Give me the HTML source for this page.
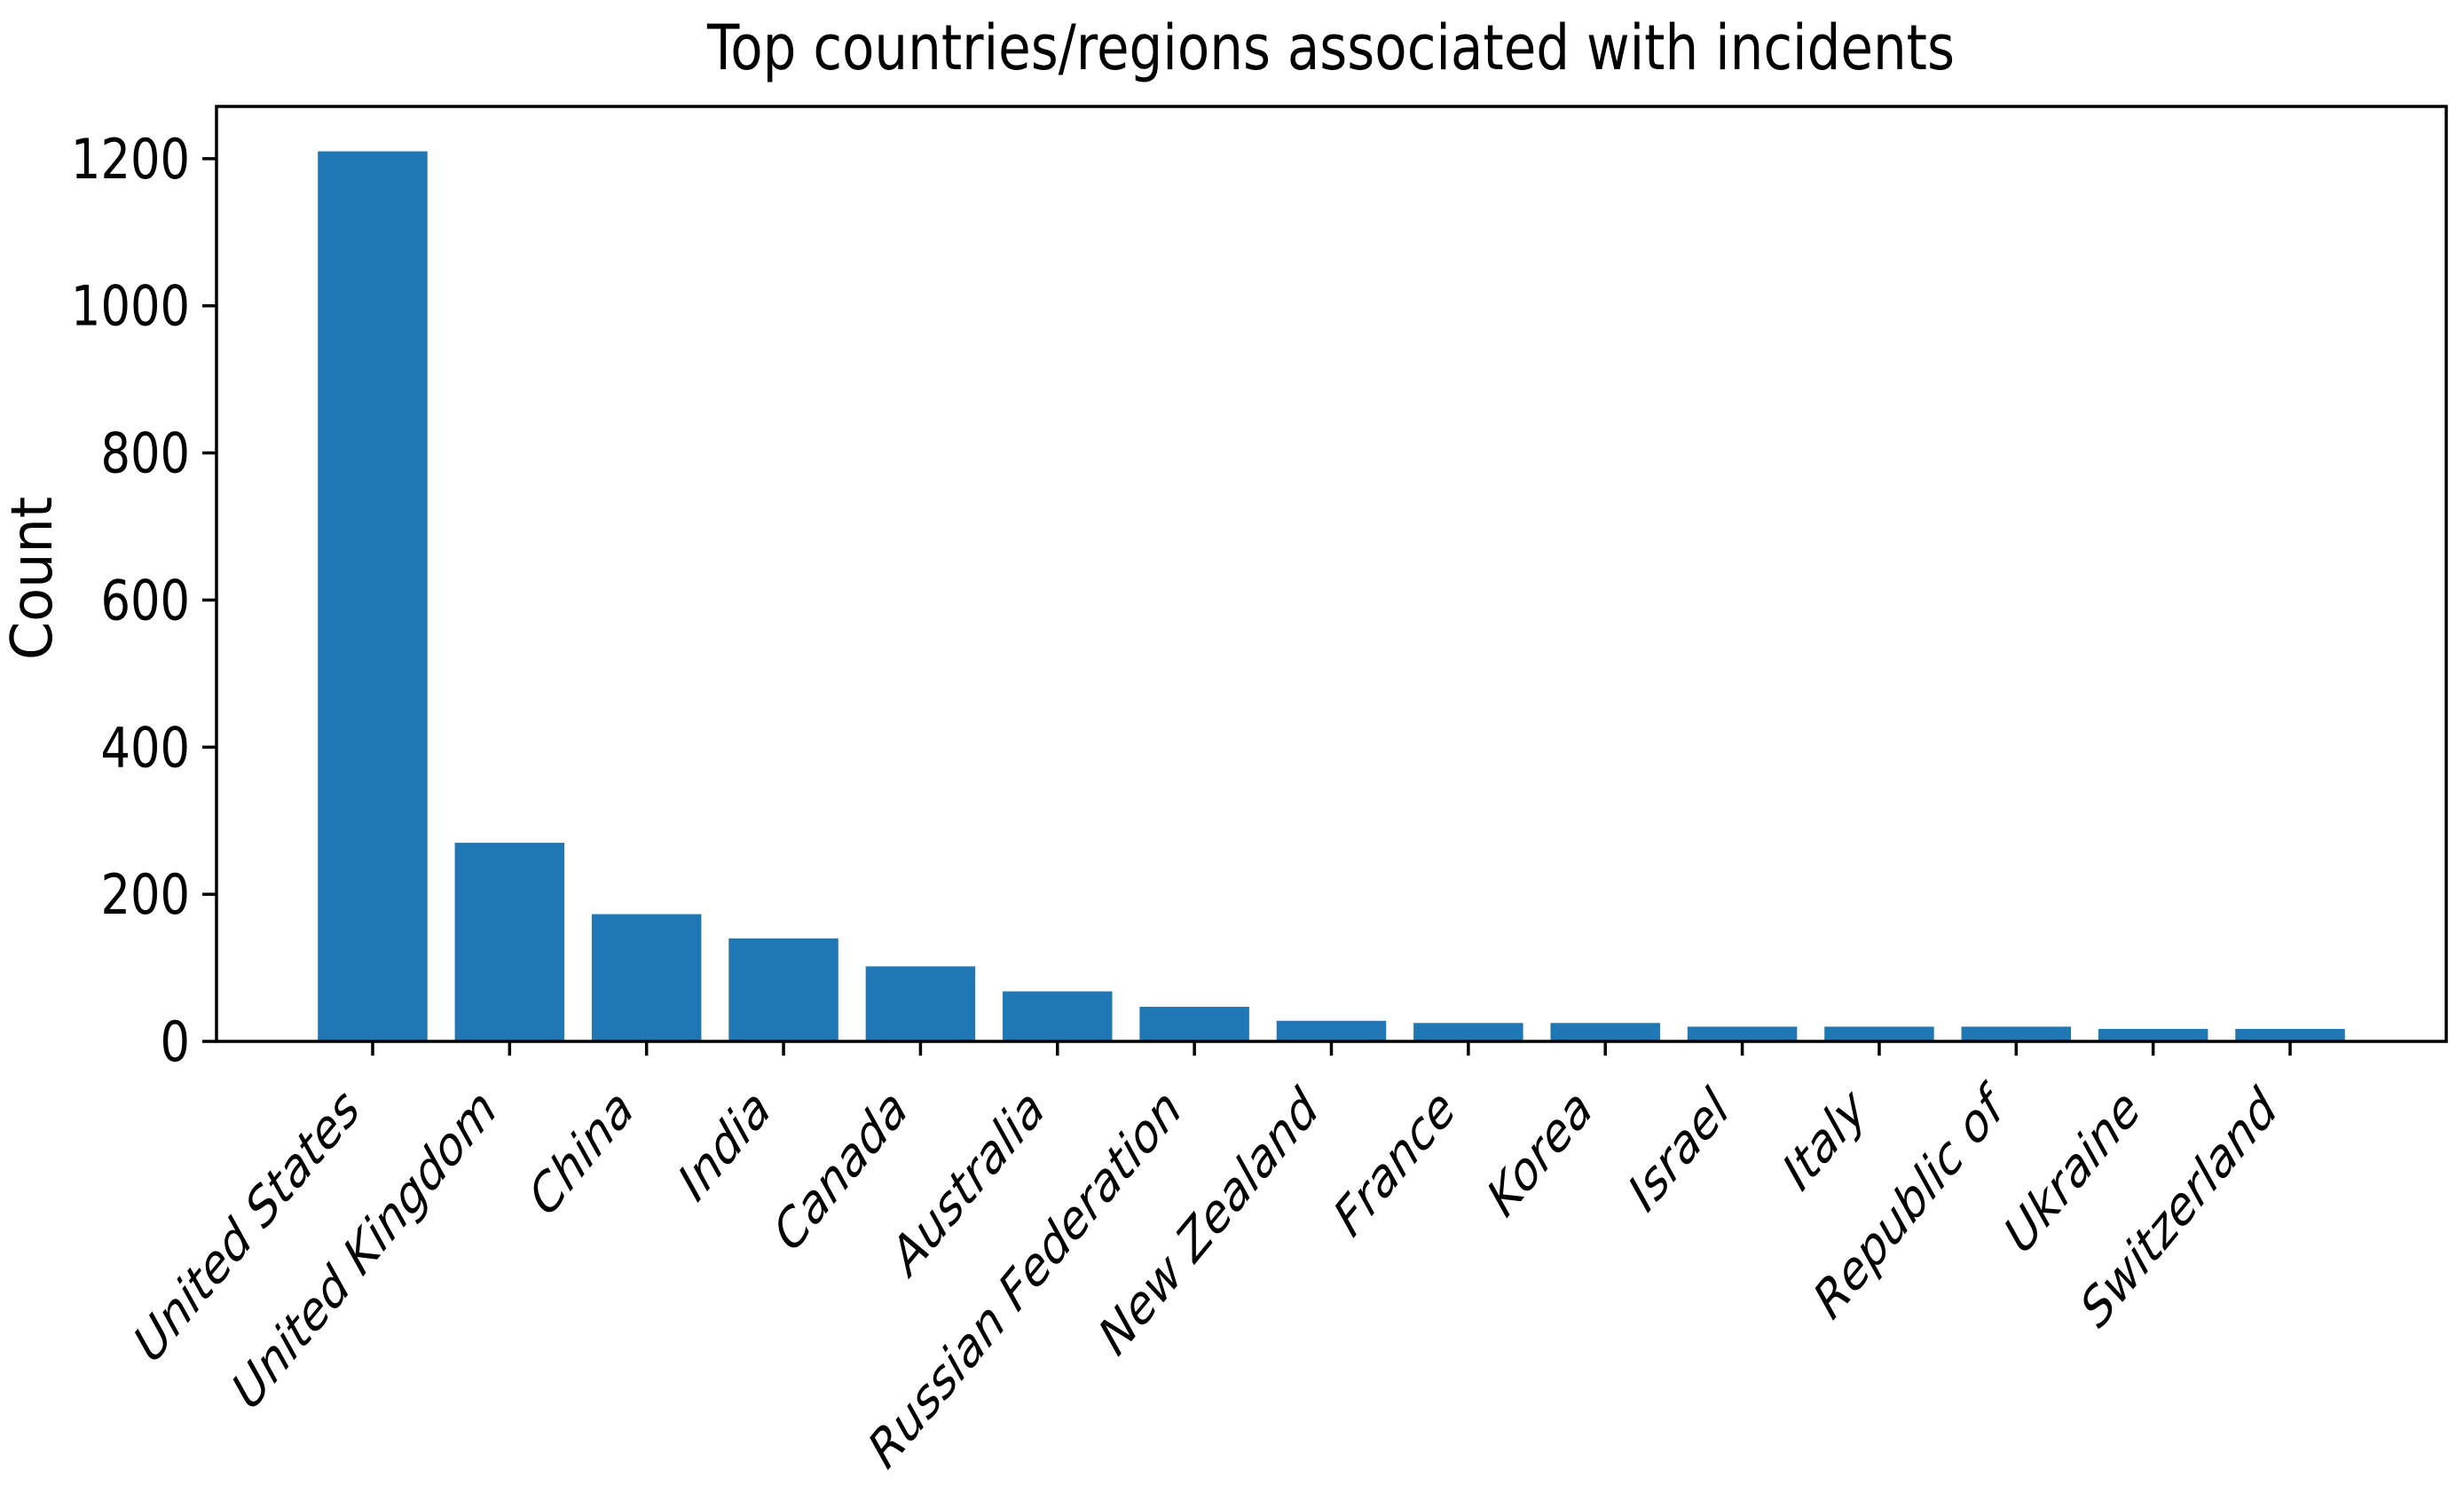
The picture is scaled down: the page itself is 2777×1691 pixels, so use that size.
<!DOCTYPE html>
<html><head><meta charset="utf-8"><style>
html,body{margin:0;padding:0;background:#fff;}
svg{display:block;}
text{font-family:"DejaVu Sans","Liberation Sans",sans-serif;fill:#000;}
</style></head>
<body>
<svg id="chart" width="2777" height="1691" viewBox="0 0 2777 1691">
<rect x="0" y="0" width="2777" height="1691" fill="#fff"/>
<g id="bars"></g>
<g id="axes"></g>
</svg>
<script>
const categories = ["United States","United Kingdom","China","India","Canada","Australia","Russian Federation","New Zealand","France","Korea","Israel","Italy","Republic of","Ukraine","Switzerland"];
const counts = [1210,270,173,140,102,68,47,28,25,25,20,20,20,17,17];
const yTicks = [0,200,400,600,800,1000,1200];
const yMax = 1271;

const L=244,R=2757,T=120,B=1174;
const xMin=-1.14,xMax=categories.length-1+1.14;
function xs(i){return L+(i-xMin)/(xMax-xMin)*(R-L);}
function ys(v){return B-v/yMax*(B-T);}
const NS="http://www.w3.org/2000/svg";
const bars=document.getElementById('bars'), axes=document.getElementById('axes');
function mk(tag,attrs,parent){const e=document.createElementNS(NS,tag);for(const k in attrs)e.setAttribute(k,attrs[k]);parent.appendChild(e);return e;}
const step=xs(1)-xs(0), bw=step*0.8;
categories.forEach((c,i)=>{
  const r=mk('rect',{x:xs(i)-bw/2,y:ys(counts[i]),width:bw,height:B-ys(counts[i]),fill:'#1f77b4'},bars);
  
  
  const t=mk('line',{x1:xs(i),x2:xs(i),y1:B,y2:B+16,stroke:'#000','stroke-width':3.5},axes);
  
  
  const g=mk('g',{transform:`translate(${xs(i)-38},${B+48}) scale(0.85,1.03) rotate(-45)`},axes);
  const lb=mk('text',{x:0,y:0,'text-anchor':'end','font-size':58,'font-style':'italic','dominant-baseline':'hanging'},g);
  lb.textContent=c;
  
  
});
yTicks.forEach(v=>{
  const t=mk('line',{x1:L-16,x2:L,y1:ys(v),y2:ys(v),stroke:'#000','stroke-width':3.5},axes);
  
  
  const g=mk('g',{transform:`translate(${L-30},${ys(v)+22})`},axes);
  const lb=mk('text',{x:0,y:0,'text-anchor':'end','font-size':62,transform:'scale(0.85,1)'},g);
  lb.textContent=v;
  
  
});
const fr=mk('rect',{x:L,y:T,width:R-L,height:B-T,fill:'none',stroke:'#000','stroke-width':3.5},axes);


const yl=mk('g',{transform:`translate(58,652) rotate(-90)`},axes);
const ylt=mk('text',{x:0,y:0,'text-anchor':'middle','font-size':64,transform:'scale(0.97,1)'},yl);
ylt.textContent='Count';


const tg=mk('g',{transform:`translate(1500,78)`},axes);
const tt=mk('text',{x:0,y:0,'text-anchor':'middle','font-size':70,transform:'scale(0.85,1)'},tg);
tt.textContent='Top countries/regions associated with incidents';


</script>
</body></html>
